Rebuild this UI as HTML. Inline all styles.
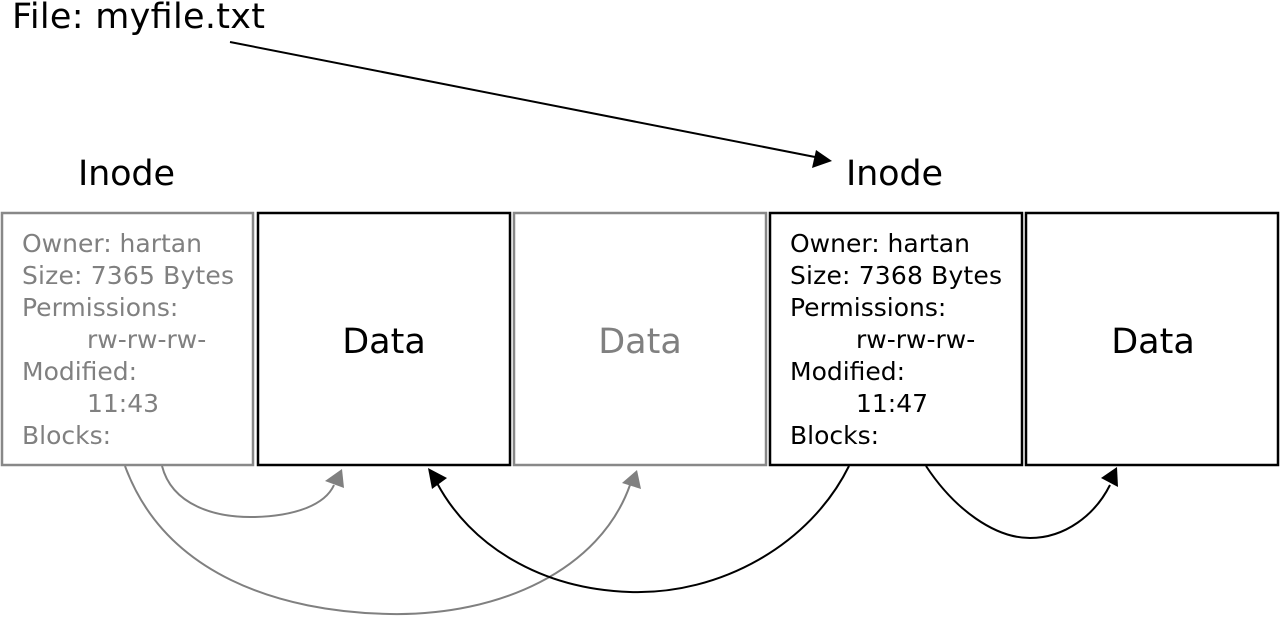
<!DOCTYPE html>
<html><head><style>
html,body{margin:0;padding:0;background:#fff;}
svg{display:block;font-family:"DejaVu Sans","Liberation Sans",sans-serif;}
</style></head><body>
<svg width="1280" height="622" viewBox="0 0 1280 622">
<text x="12" y="28" font-size="35" fill="#000" textLength="253">File: myfile.txt</text>
<text x="78" y="185" font-size="35" fill="#000" textLength="97">Inode</text>
<text x="846" y="185" font-size="35" fill="#000" textLength="97">Inode</text>
<g fill="#fff" stroke-width="2.5">
<rect x="2" y="213" width="251" height="252" stroke="#888"/>
<rect x="258" y="213" width="252" height="252" stroke="#000"/>
<rect x="514" y="213" width="252" height="252" stroke="#888"/>
<rect x="770" y="213" width="252" height="252" stroke="#000"/>
<rect x="1026" y="213" width="252" height="252" stroke="#000"/>
</g>
<g font-size="25" fill="#808080">
<text x="22" y="252">Owner: hartan</text>
<text x="22" y="284" textLength="212">Size: 7365 Bytes</text>
<text x="22" y="316">Permissions:</text>
<text x="87" y="348">rw-rw-rw-</text>
<text x="22" y="380">Modified:</text>
<text x="87" y="412">11:43</text>
<text x="22" y="444">Blocks:</text>
</g>
<g font-size="25" fill="#000">
<text x="790" y="252">Owner: hartan</text>
<text x="790" y="284" textLength="212">Size: 7368 Bytes</text>
<text x="790" y="316">Permissions:</text>
<text x="856" y="348">rw-rw-rw-</text>
<text x="790" y="380">Modified:</text>
<text x="856" y="412">11:47</text>
<text x="790" y="444">Blocks:</text>
</g>
<g font-size="35" text-anchor="middle">
<text x="384" y="353" fill="#000">Data</text>
<text x="640" y="353" fill="#808080">Data</text>
<text x="1153" y="353" fill="#000">Data</text>
</g>
<line x1="230" y1="42" x2="815" y2="157" stroke="#000" stroke-width="2"/>
<polygon points="832,161 812,168 816,150" fill="#000"/>
<g fill="none" stroke="#808080" stroke-width="2">
<path d="M162,466 C172,505 215,518 255,517 C295,516 325,505 334,485"/>
<path d="M125,466 C165,575 280,612 390,614 C500,616 600,570 630,485"/>
</g>
<polygon points="342,469 344,488 325,481" fill="#808080"/>
<polygon points="637,470 641,489 622,483" fill="#808080"/>
<g fill="none" stroke="#000" stroke-width="2">
<path d="M849,466 C810,545 720,595 630,592 C540,589 470,545 437,483"/>
<path d="M926,466 C955,510 995,538 1030,538 C1065,538 1095,515 1110,485"/>
</g>
<polygon points="428,468 447,478 432,489" fill="#000"/>
<polygon points="1117,467 1118,487 1101,478" fill="#000"/>
</svg>
</body></html>
